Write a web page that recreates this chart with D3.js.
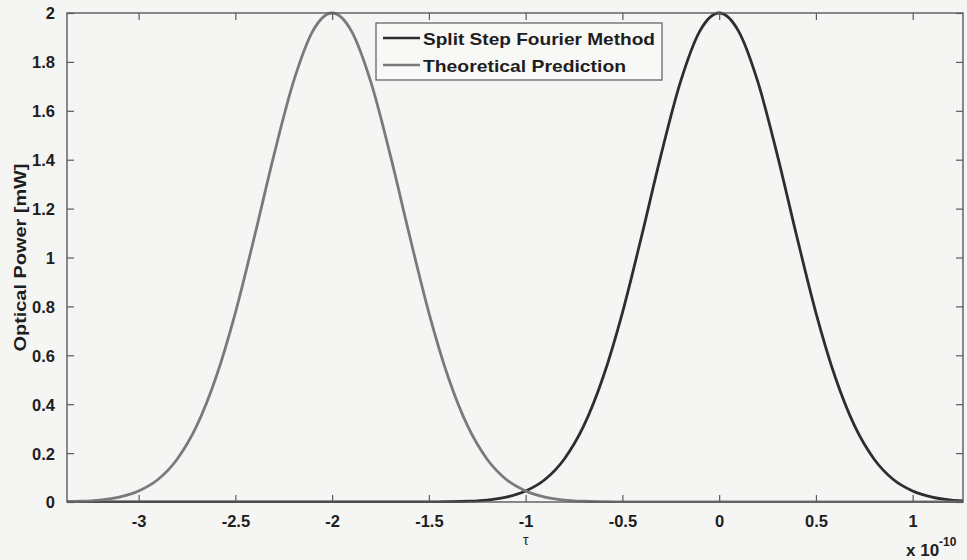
<!DOCTYPE html>
<html>
<head>
<meta charset="utf-8">
<script src="https://cdn.jsdelivr.net/npm/d3@7"></script>
<style>
  html, body { margin: 0; padding: 0; background: #f5f5f4; }
  svg { display: block; }
  text { font-family: "Liberation Sans", Arial, sans-serif; fill: #1e1e1e; }
</style>
</head>
<body>
<svg id="chart" width="967" height="560"></svg>
<script>
// τ values (units of 1e-10 s)
const tau = [-3.37, -3.3, -3.2, -3.1, -3.0, -2.9, -2.8, -2.7, -2.6, -2.5, -2.4, -2.3, -2.2, -2.1, -2.0,
  -1.9, -1.8, -1.7, -1.6, -1.5, -1.4, -1.3, -1.2, -1.1, -1.0, -0.9, -0.8, -0.7, -0.6, -0.5, -0.4, -0.3,
  -0.2, -0.1, 0.0, 0.1, 0.2, 0.3, 0.4, 0.5, 0.6, 0.7, 0.8, 0.9, 1.0, 1.1, 1.2, 1.26];

// Optical power [mW]
const splitStep = [0, 0, 0, 0, 0, 0, 0, 0, 0, 0, 0, 0, 0, 0, 0,
  0, 0, 0, 0, 0, 0.001, 0.003, 0.008, 0.020, 0.045, 0.092, 0.176, 0.311, 0.510, 0.774, 1.090, 1.421,
  1.718, 1.926, 2.000, 1.926, 1.718, 1.421, 1.090, 0.774, 0.510, 0.311, 0.176, 0.092, 0.045, 0.020, 0.008, 0.005];

const theoretical = [0.002, 0.003, 0.008, 0.020, 0.045, 0.092, 0.176, 0.311, 0.510, 0.774, 1.090, 1.421, 1.718, 1.926, 2.000,
  1.926, 1.718, 1.421, 1.090, 0.774, 0.510, 0.311, 0.176, 0.092, 0.045, 0.020, 0.008, 0.003, 0.001, 0, 0, 0,
  0, 0, 0, 0, 0, 0, 0, 0, 0, 0, 0, 0, 0, 0, 0, 0];

const xTicks = [-3, -2.5, -2, -1.5, -1, -0.5, 0, 0.5, 1];
const yTicks = [0, 0.2, 0.4, 0.6, 0.8, 1, 1.2, 1.4, 1.6, 1.8, 2];
const seriesNames = ["Split Step Fourier Method", "Theoretical Prediction"];
const seriesColors = ["#2e2e2e", "#7a7a7a"];

const svg = d3.select("#chart");
const L = 67, R = 963, T = 13, B = 502;

const x = d3.scaleLinear().domain([-3.37, 1.26]).range([L, R]);
const y = d3.scaleLinear().domain([0, 2]).range([B, T]);

svg.append("defs").append("clipPath").attr("id", "clip")
  .append("rect").attr("x", L).attr("y", T - 2).attr("width", R - L).attr("height", B - T + 3);

// curves
const line = d3.line().x(d => x(d[0])).y(d => y(d[1])).curve(d3.curveMonotoneX);
[splitStep, theoretical].forEach((vals, i) => {
  svg.append("path")
    .datum(tau.map((t, k) => [t, vals[k]]))
    .attr("clip-path", "url(#clip)")
    .attr("fill", "none")
    .attr("stroke", seriesColors[i])
    .attr("stroke-width", 2.8)
    .attr("stroke-linejoin", "round")
    .attr("d", line);
});

// box
svg.append("rect").attr("x", L).attr("y", T).attr("width", R - L).attr("height", B - T)
  .attr("fill", "none").attr("stroke", "#5a5a5a").attr("stroke-width", 1.4);

// axes (inward ticks, all four sides)
const tickLen = 7;
const fmt = d => String(d);
const gx = svg.append("g").attr("transform", `translate(0,${B})`)
  .call(d3.axisBottom(x).tickValues(xTicks).tickSize(-tickLen).tickPadding(13).tickFormat(fmt));
const gxTop = svg.append("g").attr("transform", `translate(0,${T})`)
  .call(d3.axisTop(x).tickValues(xTicks).tickSize(-tickLen).tickFormat(""));
const gy = svg.append("g").attr("transform", `translate(${L},0)`)
  .call(d3.axisLeft(y).tickValues(yTicks).tickSize(-tickLen).tickPadding(12).tickFormat(fmt));
const gyR = svg.append("g").attr("transform", `translate(${R},0)`)
  .call(d3.axisRight(y).tickValues(yTicks).tickSize(-tickLen).tickFormat(""));

[gx, gxTop, gy, gyR].forEach(g => {
  g.select(".domain").remove();
  g.selectAll(".tick line").attr("stroke", "#5a5a5a").attr("stroke-width", 1.2);
  g.selectAll(".tick text").attr("font-size", 16.5).attr("font-weight", "bold")
    .attr("fill", "#1e1e1e").attr("font-family", "'Liberation Sans', Arial, sans-serif");
});
gy.selectAll(".tick text").attr("dy", "0.36em");

// axis labels
svg.append("text")
  .attr("transform", `translate(26,${(163 + 352) / 2}) rotate(-90)`)
  .attr("text-anchor", "middle")
  .attr("font-size", 16).attr("font-weight", "bold")
  .attr("textLength", 188).attr("lengthAdjust", "spacingAndGlyphs")
  .text("Optical Power [mW]");

svg.append("text")
  .attr("x", x(-1)).attr("y", 545)
  .attr("text-anchor", "middle")
  .attr("font-size", 14)
  .attr("font-family", "'Liberation Serif', serif")
  .text("τ");

const mult = svg.append("text").attr("x", 906).attr("y", 556)
  .attr("font-size", 17).attr("font-weight", "bold");
mult.append("tspan").text("x 10");
mult.append("tspan").attr("dy", -10).attr("font-size", 12).text("-10");

// legend
const lg = svg.append("g");
lg.append("rect").attr("x", 376).attr("y", 23).attr("width", 286).attr("height", 57)
  .attr("fill", "#f8f8f7").attr("stroke", "#5a5a5a").attr("stroke-width", 1.2);
seriesNames.forEach((name, i) => {
  const yy = 38 + i * 27;
  lg.append("line").attr("x1", 383).attr("x2", 420).attr("y1", yy).attr("y2", yy)
    .attr("stroke", seriesColors[i]).attr("stroke-width", 2.6);
  lg.append("text").attr("x", 423).attr("y", yy + 7)
    .attr("font-size", 17).attr("font-weight", "bold")
    .attr("textLength", i === 0 ? 232 : 203).attr("lengthAdjust", "spacingAndGlyphs")
    .text(name);
});
</script>
</body>
</html>
